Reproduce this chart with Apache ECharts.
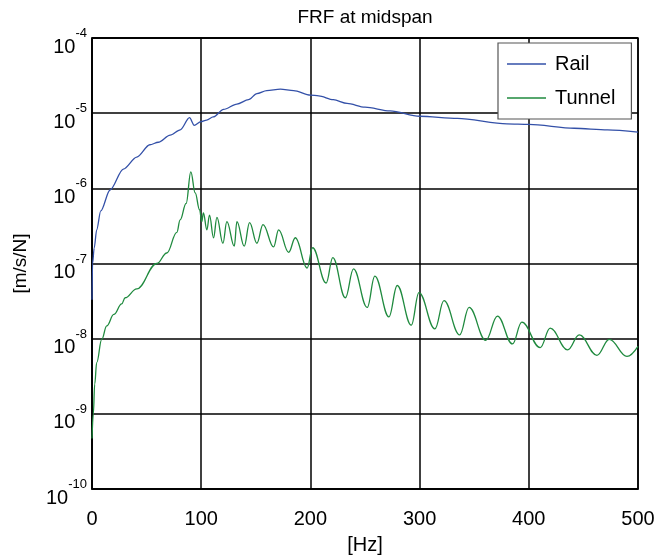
<!DOCTYPE html>
<html>
<head>
<meta charset="utf-8">
<script src="https://cdn.jsdelivr.net/npm/echarts@6/dist/echarts.min.js"></script>
<style>
  html, body { margin: 0; padding: 0; background: #fff; }
  #chart { width: 672px; height: 560px; }
</style>
</head>
<body>
<div id="chart"></div>
<script>
// frequency axis [Hz] and FRF values [m/s/N]
const railHz = [0, 0.5, 2, 4.3, 8, 16.5, 28.7, 41, 53, 60.7, 71.6, 80.8, 89.3, 93.6, 99.7, 105, 111, 120.5, 132.7, 143.4, 151, 160, 172.5, 184.7, 200, 207.6, 221, 233.6, 250, 273, 300, 334.6, 380, 400, 441.6, 472, 500];
const railVal = [3.3e-8, 1.0e-7, 1.6e-7, 2.8e-7, 5.0e-7, 9.5e-7, 1.8e-6, 2.6e-6, 3.8e-6, 4.1e-6, 5.1e-6, 6.0e-6, 8.7e-6, 6.9e-6, 7.7e-6, 8.1e-6, 8.9e-6, 1.12e-5, 1.32e-5, 1.51e-5, 1.82e-5, 2.0e-5, 2.09e-5, 2.0e-5, 1.74e-5, 1.70e-5, 1.51e-5, 1.35e-5, 1.2e-5, 1.07e-5, 9.1e-6, 8.5e-6, 7.2e-6, 7.1e-6, 6.3e-6, 6.0e-6, 5.6e-6];

const tunnelHz = [0, 1.2, 2.5, 4.3, 8.9, 13.5, 20, 27.2, 30.3, 41, 59.4, 68.5, 77.7, 80.7, 86.2, 90.5, 94.5, 98.5, 100.5, 102, 105.2, 107.6, 111.3, 114.4, 119.9, 123.5, 130.3, 132.7, 139.4, 144.3, 151, 156.6, 166.3, 170.9, 180.1, 186.2, 197, 202, 214.4, 220.5, 232, 239.5, 252, 259, 271.9, 279.5, 292.4, 299.4, 314, 322.3, 336.7, 345.3, 360.6, 371.3, 385, 393.6, 410.4, 419.6, 435.5, 446.2, 462.4, 473.7, 489.9, 500];
const tunnelVal = [4.7e-10, 1.0e-9, 2.5e-9, 4.8e-9, 9.8e-9, 1.48e-8, 2.1e-8, 2.9e-8, 3.5e-8, 4.6e-8, 1.0e-7, 1.38e-7, 2.6e-7, 3.8e-7, 6.3e-7, 1.66e-6, 8.7e-7, 5.2e-7, 3.6e-7, 4.7e-7, 2.8e-7, 4.4e-7, 2.2e-7, 4.1e-7, 1.86e-7, 3.6e-7, 1.7e-7, 3.6e-7, 1.7e-7, 3.5e-7, 1.86e-7, 3.3e-7, 1.66e-7, 2.8e-7, 1.41e-7, 2.2e-7, 8.7e-8, 1.62e-7, 5.5e-8, 1.2e-7, 3.5e-8, 8.5e-8, 2.6e-8, 6.8e-8, 1.95e-8, 5.1e-8, 1.51e-8, 4.1e-8, 1.35e-8, 3.2e-8, 1.12e-8, 2.6e-8, 9.5e-9, 2.0e-8, 8.5e-9, 1.66e-8, 7.6e-9, 1.38e-8, 7.1e-9, 1.12e-8, 6.0e-9, 9.8e-9, 5.8e-9, 7.9e-9];

const seriesNames = ["Rail", "Tunnel"];
const xTicks = [0, 100, 200, 300, 400, 500];

const FONT = "Liberation Sans";

const pairs = (xs, ys) => xs.map((x, i) => [x, ys[i]]);

const myChart = echarts.init(document.getElementById("chart"));

const option = {
  animation: false,
  backgroundColor: "#fff",
  textStyle: { fontFamily: FONT },
  title: {
    text: "FRF at midspan",
    left: 360,
    textAlign: "center",
    top: 3,
    textStyle: { fontFamily: FONT, fontSize: 19, fontWeight: "normal", color: "#000" },
  },
  legend: {
    data: seriesNames.map((n) => ({ name: n, icon: "rect" })),
    orient: "vertical",
    left: 498,
    top: 43,
    padding: [11, 16, 11, 9],
    itemWidth: 39,
    itemHeight: 1.3,
    itemGap: 14,
    backgroundColor: "#fff",
    borderColor: "#555",
    borderWidth: 1.2,
    textStyle: { fontFamily: FONT, fontSize: 20, color: "#000", padding: [0, 0, 0, 4] },
  },
  grid: {
    left: 92,
    right: 34,
    top: 38,
    bottom: 69,
    show: true,
    borderColor: "#000",
    borderWidth: 1.5,
  },
  xAxis: {
    type: "value",
    min: xTicks[0],
    max: xTicks[xTicks.length - 1],
    interval: 100,
    name: "[Hz]",
    nameLocation: "middle",
    nameGap: 46,
    nameTextStyle: { fontFamily: FONT, fontSize: 20, color: "#000" },
    axisLine: { show: true, lineStyle: { color: "#000", width: 1.5 } },
    axisTick: { show: false },
    axisLabel: { fontFamily: FONT, fontSize: 20, color: "#000", margin: 20 },
    splitLine: { show: true, lineStyle: { color: "#000", width: 1.5 } },
  },
  yAxis: {
    type: "log",
    logBase: 10,
    min: 1e-10,
    max: 1e-4,
    interval: 1,
    name: "[m/s/N]",
    nameLocation: "middle",
    nameGap: 62,
    nameTextStyle: { fontFamily: FONT, fontSize: 19, color: "#000" },
    axisLine: { show: true, lineStyle: { color: "#000", width: 1.5 } },
    axisTick: { show: false },
    axisLabel: {
      margin: 5,
      formatter: (v) => "{b|10}{s|" + Math.round(Math.log10(v)) + "}",
      rich: {
        b: { fontFamily: FONT, fontSize: 20, color: "#000", verticalAlign: "bottom", padding: [18, 0, 0, 0] },
        s: { fontFamily: FONT, fontSize: 13, color: "#000", verticalAlign: "top", padding: [8, 0, 0, 0] },
      },
    },
    splitLine: { show: true, lineStyle: { color: "#000", width: 1.5 } },
  },
  series: [
    {
      name: seriesNames[0],
      type: "line",
      data: pairs(railHz, railVal),
      symbol: "none",
      smooth: 0.3,
      smoothMonotone: "x",
      lineStyle: { color: "#3350a8", width: 1.3 },
      itemStyle: { color: "#3350a8" },
    },
    {
      name: seriesNames[1],
      type: "line",
      data: pairs(tunnelHz, tunnelVal),
      symbol: "none",
      smooth: 0.4,
      smoothMonotone: "x",
      lineStyle: { color: "#1f8a3e", width: 1.3 },
      itemStyle: { color: "#1f8a3e" },
    },
  ],
};

myChart.setOption(option);
</script>
</body>
</html>
